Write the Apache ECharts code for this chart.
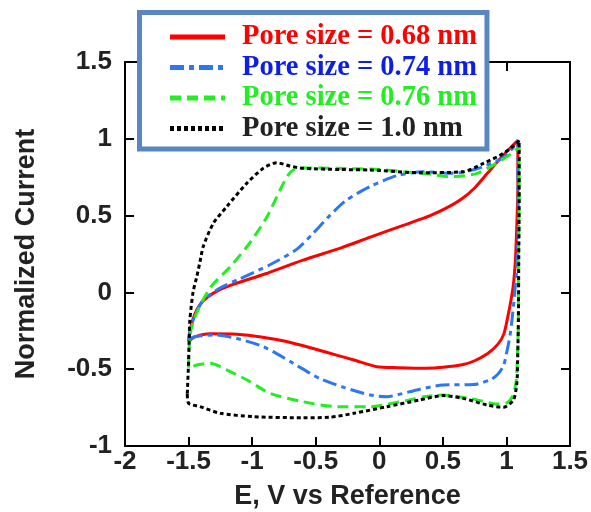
<!DOCTYPE html>
<html>
<head>
<meta charset="utf-8">
<script src="https://cdn.jsdelivr.net/npm/echarts@6/dist/echarts.min.js"></script>
<style>html,body{margin:0;padding:0;background:#fff;}#c{width:591px;height:512px;}</style>
</head>
<body>
<div id="c"></div>
<script>
const seriesNames = ['Pore size = 0.68 nm', 'Pore size = 0.74 nm', 'Pore size = 0.76 nm', 'Pore size = 1.0 nm'];
const xTicks = [-2, -1.5, -1, -0.5, 0, 0.5, 1, 1.5];
const yTicks = [-1, -0.5, 0, 0.5, 1, 1.5];

const pore068 = [
[-1.5,-0.32],[-1.48,-0.22],[-1.45,-0.14],[-1.41,-0.08],[-1.35,-0.03],[-1.25,0.02],[-1.12,0.06],[-0.9,0.12],[-0.6,0.21],[-0.3,0.29],[-0.07,0.36],[0.2,0.44],[0.4,0.5],[0.53,0.55],[0.65,0.61],[0.75,0.68],[0.85,0.775],[0.95,0.87],[1.03,0.94],[1.09,0.99],
[1.09,0.69],[1.08,0.4],[1.07,0.2],[1.055,0.05],[1.04,-0.03],[1.02,-0.12],[0.98,-0.27],[0.93,-0.34],[0.85,-0.40],[0.75,-0.445],[0.66,-0.47],[0.5,-0.488],[0.37,-0.494],[0.15,-0.49],[-0.02,-0.484],[-0.2,-0.44],[-0.33,-0.41],[-0.5,-0.37],[-0.73,-0.32],[-0.93,-0.29],[-1.12,-0.273],[-1.33,-0.27],[-1.45,-0.29],[-1.5,-0.32]
];
const pore074 = [
[-1.5,-0.31],[-1.48,-0.22],[-1.44,-0.13],[-1.384,-0.05],[-1.25,0.03],[-1.12,0.08],[-0.86,0.18],[-0.65,0.28],[-0.52,0.385],[-0.39,0.50],[-0.26,0.60],[-0.07,0.69],[0.14,0.76],[0.35,0.785],[0.58,0.775],[0.75,0.8],[0.85,0.83],[0.98,0.88],[1.08,0.97],[1.09,0.99],
[1.09,0.7],[1.094,0.47],[1.082,0.17],[1.055,-0.09],[1.03,-0.27],[1.0,-0.4],[0.976,-0.48],[0.93,-0.535],[0.87,-0.57],[0.74,-0.60],[0.5,-0.603],[0.32,-0.63],[0.15,-0.665],[0.06,-0.679],[-0.07,-0.668],[-0.28,-0.618],[-0.47,-0.56],[-0.68,-0.46],[-0.91,-0.354],[-1.12,-0.30],[-1.3,-0.277],[-1.46,-0.29],[-1.5,-0.31]
];
const pore076 = [
[-1.5,-0.49],[-1.495,-0.35],[-1.48,-0.24],[-1.44,-0.14],[-1.33,0.03],[-1.17,0.17],[-1.02,0.32],[-0.885,0.49],[-0.78,0.667],[-0.72,0.76],[-0.67,0.80],[-0.6,0.81],[-0.33,0.808],[0.0,0.80],[0.19,0.786],[0.4,0.77],[0.557,0.753],[0.67,0.76],[0.77,0.775],[0.92,0.84],[1.05,0.91],[1.1,0.95],
[1.1,0.6],[1.094,0.2],[1.094,-0.18],[1.085,-0.45],[1.075,-0.59],[1.045,-0.68],[1.0,-0.72],[0.92,-0.727],[0.82,-0.71],[0.71,-0.69],[0.5,-0.668],[0.35,-0.68],[0.24,-0.70],[0.05,-0.73],[-0.07,-0.744],[-0.33,-0.744],[-0.6,-0.712],[-0.86,-0.657],[-1.04,-0.57],[-1.2,-0.505],[-1.33,-0.462],[-1.42,-0.47],[-1.476,-0.484],[-1.5,-0.49]
];
const pore100 = [
[-1.51,-0.66],[-1.5,-0.45],[-1.495,-0.3],[-1.49,-0.18],[-1.465,0.0],[-1.436,0.10],[-1.41,0.2],[-1.384,0.30],[-1.305,0.45],[-1.2,0.558],[-1.043,0.71],[-0.912,0.808],[-0.806,0.844],[-0.702,0.823],[-0.6,0.808],[-0.3,0.80],[-0.07,0.797],[0.32,0.779],[0.66,0.786],[0.82,0.84],[0.976,0.905],[1.08,0.97],[1.1,0.99],
[1.1,0.6],[1.097,0.2],[1.094,-0.18],[1.088,-0.45],[1.082,-0.59],[1.055,-0.70],[0.976,-0.748],[0.846,-0.733],[0.66,-0.69],[0.5,-0.672],[0.32,-0.70],[0.06,-0.744],[-0.2,-0.787],[-0.39,-0.813],[-0.6,-0.816],[-0.99,-0.809],[-1.25,-0.787],[-1.41,-0.744],[-1.5,-0.722],[-1.51,-0.66]
];

const curves = [pore068, pore074, pore076, pore100];
const lineColors = ['#ff0000', '#2b78f0', '#22ee22', '#000000'];
const textColors = ['#ff0000', '#0c1ee8', '#22ee22', '#222222'];
const dashes = ['solid', [14, 5, 5, 5], [11, 6], [4, 3]];

const chart = echarts.init(document.getElementById('c'));
const axisFont = {fontFamily: 'Liberation Sans, Arial, sans-serif', fontWeight: 'bold', fontSize: 26, color: '#222'};
const axCommon = {
  type: 'value',
  axisLine: {show: true, onZero: false, lineStyle: {color: '#000', width: 2}},
  axisTick: {show: true, inside: true, length: 9, lineStyle: {color: '#000', width: 2}},
  splitLine: {show: false}
};
chart.setOption({
  animation: false,
  backgroundColor: '#fff',
  grid: {left: 125, right: 21, top: 62, bottom: 66, containLabel: false, outerBoundsMode: 'none'},
  legend: {
    orient: 'vertical',
    left: 139.5, top: 12.5,
    padding: [10, 10, 6, 28],
    itemGap: 1.5,
    itemWidth: 55, itemHeight: 14,
    backgroundColor: '#fff',
    borderColor: '#5a86c1', borderWidth: 5,
    itemStyle: {opacity: 0},
    lineStyle: {width: 5},
    data: seriesNames.map((n, i) => ({name: n, textStyle: {color: textColors[i]}})),
    textStyle: {fontFamily: 'Liberation Serif, Times New Roman, serif', fontWeight: 'bold', fontSize: 28.5, lineHeight: 29, padding: [0, 0, 0, 12]}
  },
  xAxis: [
    Object.assign({}, axCommon, {min: -2, max: 1.5, interval: 0.5, position: 'bottom',
      name: 'E, V vs Reference', nameLocation: 'middle', nameGap: 37,
      nameTextStyle: {fontFamily: 'Liberation Sans, Arial, sans-serif', fontWeight: 'bold', fontSize: 27, color: '#222'},
      axisLabel: Object.assign({margin: 3, formatter: v => String(v)}, axisFont)}),
    Object.assign({}, axCommon, {min: -2, max: 1.5, interval: 0.5, position: 'top', axisLabel: {show: false}})
  ],
  yAxis: [
    Object.assign({}, axCommon, {min: -1, max: 1.5, interval: 0.5, position: 'left',
      name: 'Normalized Current', nameLocation: 'middle', nameGap: 85,
      nameTextStyle: {fontFamily: 'Liberation Sans, Arial, sans-serif', fontWeight: 'bold', fontSize: 27, color: '#222'},
      axisLabel: Object.assign({margin: 13, formatter: v => String(v)}, axisFont)}),
    Object.assign({}, axCommon, {min: -1, max: 1.5, interval: 0.5, position: 'right', axisLabel: {show: false}})
  ],
  series: curves.map((d, i) => ({
    name: seriesNames[i],
    type: 'line',
    data: d,
    xAxisIndex: 0, yAxisIndex: 0,
    showSymbol: false, symbol: 'none',
    smooth: 0.25,
    color: lineColors[i],
    lineStyle: {color: lineColors[i], width: 3, type: dashes[i]}
  }))
});
</script>
</body>
</html>
